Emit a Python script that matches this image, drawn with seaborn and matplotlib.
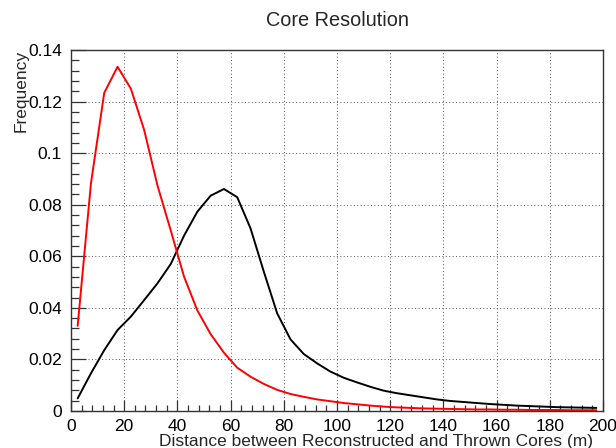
import matplotlib
matplotlib.use("Agg")
import matplotlib.pyplot as plt
import matplotlib.ticker as mticker
import pandas as pd
import seaborn as sns

# bin centres (5 m bins)
distance = [2.5, 7.5, 12.5, 17.5, 22.5, 27.5, 32.5, 37.5, 42.5, 47.5,
            52.5, 57.5, 62.5, 67.5, 72.5, 77.5, 82.5, 87.5, 92.5, 97.5,
            102.5, 107.5, 112.5, 117.5, 122.5, 127.5, 132.5, 137.5, 142.5, 147.5,
            152.5, 157.5, 162.5, 167.5, 172.5, 177.5, 182.5, 187.5, 192.5, 197.5]

freq_black = [0.0049, 0.0146, 0.0236, 0.0314, 0.0366, 0.0430, 0.0495, 0.0570, 0.0680, 0.0773,
              0.0835, 0.0861, 0.0829, 0.0708, 0.0540, 0.0379, 0.0278, 0.0221, 0.0185, 0.0153,
              0.0129, 0.0111, 0.0094, 0.0079, 0.0069, 0.0061, 0.0053, 0.0045, 0.0039, 0.0035,
              0.0031, 0.0027, 0.0024, 0.0021, 0.0019, 0.0017, 0.0015, 0.0014, 0.0013, 0.0012]

freq_red = [0.0330, 0.0883, 0.1234, 0.1335, 0.1250, 0.1090, 0.0875, 0.0700, 0.0521, 0.0390,
            0.0298, 0.0226, 0.0168, 0.0133, 0.0105, 0.0082, 0.0066, 0.0055, 0.0045, 0.0038,
            0.0031, 0.0026, 0.0021, 0.0017, 0.0014, 0.0012, 0.0010, 0.0009, 0.0008, 0.0007,
            0.0006, 0.0006, 0.0005, 0.0005, 0.0004, 0.0004, 0.0004, 0.0003, 0.0003, 0.0003]

df = pd.DataFrame({
    "distance": distance * 2,
    "frequency": freq_black + freq_red,
    "series": ["black"] * len(distance) + ["red"] * len(distance),
})

sns.set_style("ticks")
plt.rcParams["font.family"] = ["Liberation Sans", "DejaVu Sans"]

fig = plt.figure(figsize=(6.16, 4.48), dpi=100)
ax = fig.add_axes([71 / 616, 1 - 411 / 448, 532 / 616, 361 / 448])

sns.lineplot(data=df, x="distance", y="frequency", hue="series",
             palette={"black": "black", "red": "#ff0000"}, linewidth=1.4,
             legend=False, ax=ax)

ax.set_xlim(0, 200)
ax.set_ylim(0, 0.14)
ax.xaxis.set_major_locator(mticker.MultipleLocator(20))
ax.xaxis.set_minor_locator(mticker.MultipleLocator(4))
ax.yaxis.set_major_locator(mticker.MultipleLocator(0.02))
ax.yaxis.set_minor_locator(mticker.MultipleLocator(0.004))
ax.yaxis.set_major_formatter(mticker.FuncFormatter(lambda v, p: "%g" % round(v, 3)))

ax.tick_params(axis="both", which="both", direction="in", colors="#333333",
               labelcolor="black", labelsize=12.5)
ax.tick_params(axis="y", which="major", length=11, width=0.9, pad=6.5)
ax.tick_params(axis="y", which="minor", length=5.5, width=0.9)
ax.tick_params(axis="x", which="major", length=8, width=0.9, pad=6)
ax.tick_params(axis="x", which="minor", length=4, width=0.9)

ax.grid(True, which="major", linestyle=(0, (1, 2.5)), color="#555555", linewidth=0.7)
for s in ax.spines.values():
    s.set_color("#333333")
    s.set_linewidth(1.0)
    s.set_visible(True)

ax.set_xlabel("Distance between Reconstructed and Thrown Cores (m)", fontsize=12.5, loc="right")
ax.xaxis.set_label_coords((593 - 71) / 532, -0.063)
ax.set_ylabel("Frequency", fontsize=12.5, loc="top")
ax.yaxis.set_label_coords(-0.079, 1.0)

fig.text(337 / 616, 1 - 26.5 / 448, "Core Resolution", fontsize=14.3,
         ha="center", va="baseline")

fig.savefig("out.png", dpi=100)
plt.close(fig)
